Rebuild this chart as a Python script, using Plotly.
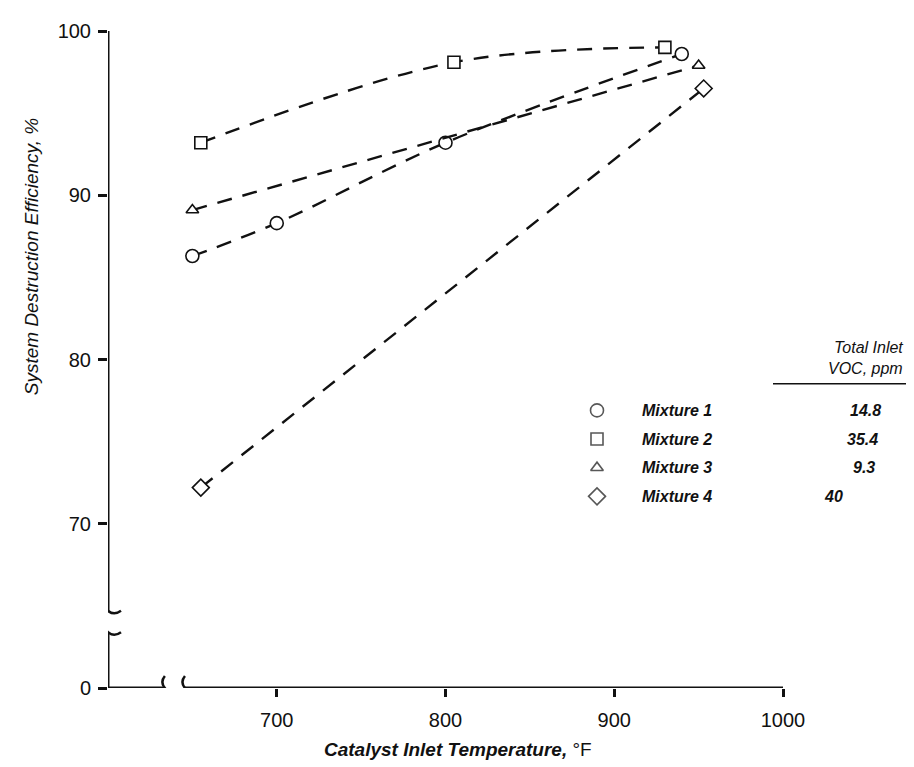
import plotly.graph_objects as go

# ---------------- data ----------------
temp_m1 = [650, 700, 800, 940]
eff_m1 = [86.3, 88.3, 93.2, 98.6]
temp_m2 = [655, 805, 930]
eff_m2 = [93.2, 98.1, 99.0]
temp_m3 = [650, 950]
eff_m3 = [89.1, 97.9]
temp_m4 = [655, 953]
eff_m4 = [72.2, 96.5]

mixture_names = ["Mixture 1", "Mixture 2", "Mixture 3", "Mixture 4"]
voc_ppm = ["14.8", "35.4", "9.3", "40"]
marker_symbols = ["circle", "square", "triangle-up", "diamond"]
marker_sizes = [13, 12, 11, 13]

x_tickvals = [700, 800, 900, 1000]
x_ticktext = ["700", "800", "900", "1000"]
y_tickvals = [60, 70, 80, 90, 100]
y_ticktext = ["0", "70", "80", "90", "100"]

# ---------------- layout constants ----------------
OFF = 8                      # page body margin in the browser
W, H = 914 - OFF, 767 - OFF
ML, MT = 108 - OFF, 23 - OFF
MR = W - (783 - OFF)
MB = H - (688 - OFF)
X_RANGE = [600, 1000]
Y_RANGE = [60, 100]
X_BREAK = (633.7, 645.6)
Y_BREAK = (63.4, 64.7)
FONT = "Liberation Sans, Arial, sans-serif"
INK = "#111111"
DASH = "15px,11px"

def px(xpix):
    return (xpix - OFF - ML) / (W - ML - MR)

def py(ypix):
    return (H - MB - (ypix - OFF)) / (H - MT - MB)

fig = go.Figure()

series = [
    (temp_m1, eff_m1, "spline"),
    (temp_m2, eff_m2, "spline"),
    (temp_m3, eff_m3, "linear"),
    (temp_m4, eff_m4, "linear"),
]
for i, (xs, ys, shape) in enumerate(series):
    fig.add_trace(go.Scatter(
        x=xs, y=ys, mode="lines+markers", name=mixture_names[i],
        line=dict(color=INK, width=2.4, dash=DASH, shape=shape, smoothing=1.0),
        marker=dict(symbol=marker_symbols[i], size=marker_sizes[i], color="white",
                    line=dict(color=INK, width=1.6)),
        showlegend=False, cliponaxis=False,
    ))

# legend markers on an overlay paper-like axis
legend_rows_px = [407, 436, 465, 494]
fig.add_trace(go.Scatter(
    x=[px(597)] * 4, y=[py(r) for r in legend_rows_px],
    mode="markers", xaxis="x2", yaxis="y2", showlegend=False,
    marker=dict(symbol=marker_symbols, size=marker_sizes, color="white",
                line=dict(color=INK, width=1.6)),
    cliponaxis=False,
))

annotations = []
value_left_px = [848, 845, 851, 822]
for i, r in enumerate(legend_rows_px):
    annotations.append(dict(x=px(640), y=py(r), xref="paper", yref="paper",
                            text="<b><i>%s</i></b>" % mixture_names[i], showarrow=False,
                            xanchor="left", yanchor="middle",
                            font=dict(family=FONT, size=16, color=INK)))
    annotations.append(dict(x=px(value_left_px[i]), y=py(r), xref="paper", yref="paper",
                            text="<b><i>%s</i></b>" % voc_ppm[i], showarrow=False,
                            xanchor="left", yanchor="middle",
                            font=dict(family=FONT, size=16, color=INK)))
annotations.append(dict(x=px(905), y=py(343), xref="paper", yref="paper",
                        text="<i>Total Inlet</i>", showarrow=False,
                        xanchor="right", yanchor="middle",
                        font=dict(family=FONT, size=16, color=INK)))
annotations.append(dict(x=px(905), y=py(365), xref="paper", yref="paper",
                        text="<i>VOC, ppm</i>", showarrow=False,
                        xanchor="right", yanchor="middle",
                        font=dict(family=FONT, size=16, color=INK)))
# y-axis title
annotations.append(dict(x=px(31), y=py(252), xref="paper", yref="paper",
                        text="<i>System Destruction Efficiency, %</i>", showarrow=False,
                        textangle=-90, xanchor="center", yanchor="middle",
                        font=dict(family=FONT, size=19, color=INK)))
# x-axis title
annotations.append(dict(x=px(458), y=py(750), xref="paper", yref="paper",
                        text="<b><i>Catalyst Inlet Temperature,</i></b> °F", showarrow=False,
                        xanchor="center", yanchor="middle",
                        font=dict(family=FONT, size=19, color=INK)))

axis_line = dict(color=INK, width=3)
shapes = [
    # y axis (with break)
    dict(type="line", xref="x", yref="y", x0=X_RANGE[0], x1=X_RANGE[0], y0=Y_BREAK[1], y1=Y_RANGE[1], line=axis_line),
    dict(type="line", xref="x", yref="y", x0=X_RANGE[0], x1=X_RANGE[0], y0=Y_RANGE[0], y1=Y_BREAK[0], line=axis_line),
    # x axis (with break)
    dict(type="line", xref="x", yref="y", x0=X_RANGE[0], x1=X_BREAK[0], y0=Y_RANGE[0], y1=Y_RANGE[0], line=axis_line),
    dict(type="line", xref="x", yref="y", x0=X_BREAK[1], x1=X_RANGE[1], y0=Y_RANGE[0], y1=Y_RANGE[0], line=axis_line),
    # legend rule
    dict(type="line", xref="paper", yref="paper", x0=px(773), x1=px(912), y0=py(380), y1=py(380),
         line=dict(color=INK, width=1.5)),
]
# break caps (small wavy marks, pixel-sized)
for yb in Y_BREAK:
    shapes.append(dict(type="path", xref="x", yref="y", xsizemode="pixel", ysizemode="pixel",
                       xanchor=X_RANGE[0], yanchor=yb,
                       path="M -13,0 Q -6,5 0,0 Q 6,-5 13,0", line=dict(color=INK, width=2.5)))
for xb in X_BREAK:
    shapes.append(dict(type="path", xref="x", yref="y", xsizemode="pixel", ysizemode="pixel",
                       xanchor=xb, yanchor=Y_RANGE[0],
                       path="M 0,-12 Q 5,-6 0,0 Q -5,6 0,12", line=dict(color=INK, width=2.5)))

fig.update_layout(
    width=W, height=H,
    margin=dict(l=ML, r=MR, t=MT, b=MB, pad=0),
    paper_bgcolor="white", plot_bgcolor="white",
    font=dict(family=FONT, color=INK),
    showlegend=False,
    xaxis=dict(range=X_RANGE, tickvals=x_tickvals, ticktext=x_ticktext,
               showgrid=False, zeroline=False, showline=False,
               ticks="outside", ticklen=8, tickwidth=2.5, tickcolor=INK,
               ticklabelstandoff=6,
               tickfont=dict(family=FONT, size=20, color=INK)),
    yaxis=dict(range=Y_RANGE, tickvals=y_tickvals, ticktext=y_ticktext,
               showgrid=False, zeroline=False, showline=False,
               ticks="outside", ticklen=9, tickwidth=2.5, tickcolor=INK,
               ticklabelstandoff=3,
               tickfont=dict(family=FONT, size=20, color=INK)),
    xaxis2=dict(range=[0, 1], overlaying="x", visible=False),
    yaxis2=dict(range=[0, 1], overlaying="y", visible=False),
    annotations=annotations,
    shapes=shapes,
)

fig.write_html("out.html")
